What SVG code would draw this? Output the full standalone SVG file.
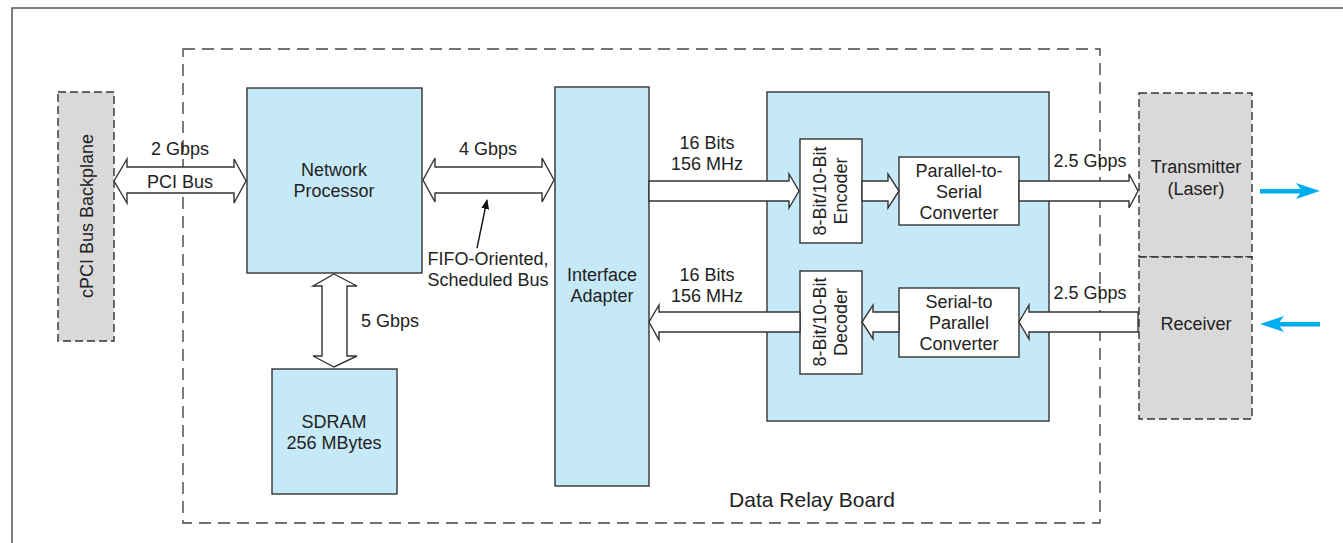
<svg xmlns="http://www.w3.org/2000/svg" width="1343" height="543" viewBox="0 0 1343 543">
<style>
text{font-family:"Liberation Sans",Arial,Helvetica,sans-serif;font-size:18px;fill:#222;}
.c{text-anchor:middle;}
.big{font-size:21px;}
.blue{fill:#c6e9f8;stroke:#333;stroke-width:1.4;}
.white{fill:#fff;stroke:#333;stroke-width:1.4;}
.gray{fill:#d9d9d9;stroke:#333;stroke-width:1.4;stroke-dasharray:8 4;}
.arr{fill:#fff;stroke:#333;stroke-width:1.4;stroke-linejoin:miter;}
.cyan{fill:#00aeef;}
</style>
<defs>
<marker id="tipk" markerWidth="10" markerHeight="10" refX="9" refY="5" orient="auto" markerUnits="userSpaceOnUse">
<path d="M0,1 L10,5 L0,9 Z" fill="#111"/>
</marker>
</defs>
<rect x="0" y="0" width="1343" height="543" fill="#fff"/>
<rect id="frame" x="12" y="8" width="1345" height="550" fill="none" stroke="#555" stroke-width="1.5"/>
<g id="board">
<rect x="183" y="49" width="917" height="474" fill="none" stroke="#444" stroke-width="1.4" stroke-dasharray="12 7"/>
<text class="c big" x="812" y="507">Data Relay Board</text>
</g>
<g id="backplane">
<rect class="gray" x="58" y="92" width="56" height="249"/>
<text class="c" transform="translate(86,216) rotate(-90)" x="0" y="7">cPCI Bus Backplane</text>
</g>
<g id="netproc">
<rect class="blue" x="247" y="88" width="175" height="185"/>
<text class="c" x="334" y="176">Network</text>
<text class="c" x="334" y="197">Processor</text>
</g>
<g id="sdram">
<rect class="blue" x="272" y="369" width="125" height="125"/>
<text class="c" x="334" y="428">SDRAM</text>
<text class="c" x="334" y="449">256 MBytes</text>
</g>
<g id="adapter">
<rect class="blue" x="555" y="87" width="94" height="399"/>
<text class="c" x="602" y="281">Interface</text>
<text class="c" x="602" y="302">Adapter</text>
</g>
<g id="serdes">
<rect class="blue" x="767" y="92" width="282" height="329"/>
</g>
<g id="encoder">
<rect class="white" x="800" y="139" width="62" height="104"/>
<text class="c" transform="translate(831,191) rotate(-90)"><tspan x="0" y="-5">8-Bit/10-Bit</tspan><tspan x="0" y="16">Encoder</tspan></text>
</g>
<g id="decoder">
<rect class="white" x="800" y="271" width="62" height="103"/>
<text class="c" transform="translate(831,322) rotate(-90)"><tspan x="0" y="-5">8-Bit/10-Bit</tspan><tspan x="0" y="16">Decoder</tspan></text>
</g>
<g id="p2s">
<rect class="white" x="899" y="157" width="120" height="68"/>
<text class="c" x="959" y="177">Parallel-to-</text>
<text class="c" x="959" y="198">Serial</text>
<text class="c" x="959" y="219">Converter</text>
</g>
<g id="s2p">
<rect class="white" x="899" y="288" width="120" height="69"/>
<text class="c" x="959" y="308">Serial-to</text>
<text class="c" x="959" y="329">Parallel</text>
<text class="c" x="959" y="350">Converter</text>
</g>
<g id="transmitter">
<rect class="gray" x="1139" y="93" width="113" height="164"/>
<text class="c" x="1196" y="173">Transmitter</text>
<text class="c" x="1196" y="195">(Laser)</text>
</g>
<g id="receiver">
<rect class="gray" x="1139" y="257" width="113" height="162"/>
<text class="c" x="1196" y="330">Receiver</text>
</g>
<g id="connectors">
<polygon class="arr" points="114,181 127,159 127,167 234,167 234,159 246,181 234,203 234,193 127,193 127,203"/>
<text class="c" x="180" y="155">2 Gbps</text>
<text class="c" x="180" y="188">PCI Bus</text>
<polygon class="arr" points="423,180 435,158 435,167 542,167 542,158 554,180 542,202 542,193 435,193 435,202"/>
<text class="c" x="488" y="155">4 Gbps</text>
<line x1="477" y1="248" x2="487" y2="200" stroke="#111" stroke-width="1.4" marker-end="url(#tipk)"/>
<text class="c" x="488" y="265">FIFO-Oriented,</text>
<text class="c" x="488" y="286">Scheduled Bus</text>
<polygon class="arr" points="334,274 357,286 347,286 347,356 357,356 334,367 313,356 322,356 322,286 313,286"/>
<text x="361" y="327">5 Gbps</text>
<polygon class="arr" points="649,181 789,181 789,174 799,191 789,208 789,201 649,201"/>
<text class="c" x="707" y="149">16 Bits</text>
<text class="c" x="707" y="170">156 MHz</text>
<polygon class="arr" points="862,181 888,181 888,174 899,191 888,208 888,201 862,201"/>
<polygon class="arr" points="1019,181 1129,181 1129,174 1138,191 1129,208 1129,201 1019,201"/>
<text class="c" x="1090" y="167">2.5 Gbps</text>
<polygon class="arr" points="1138,312 1029,312 1029,305 1019,322 1029,339 1029,332 1138,332"/>
<text class="c" x="1090" y="299">2.5 Gbps</text>
<polygon class="arr" points="899,312 873,312 873,305 862,322 873,339 873,332 899,332"/>
<polygon class="arr" points="800,312 659,312 659,305 649,322 659,340 659,332 800,332"/>
<text class="c" x="707" y="281">16 Bits</text>
<text class="c" x="707" y="302">156 MHz</text>
<rect class="cyan" x="1260" y="189" width="44" height="4.5"/>
<polygon class="cyan" points="1320,191 1296,183 1302,191 1296,199"/>
<rect class="cyan" x="1278" y="322" width="42" height="4.5"/>
<polygon class="cyan" points="1260,324 1284,316 1278,324 1284,332"/>
</g>
</svg>
